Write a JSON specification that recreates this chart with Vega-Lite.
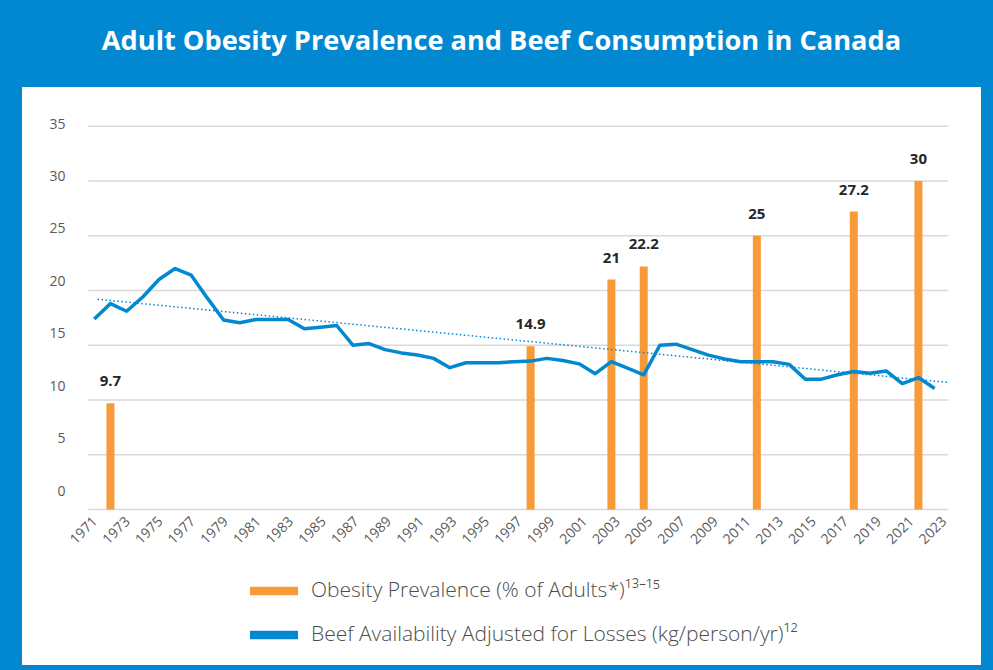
{
  "$schema": "https://vega.github.io/schema/vega-lite/v6.json",
  "width": 959,
  "height": 578,
  "autosize": {"type": "none"},
  "padding": {"left": 22, "top": 87, "right": 12, "bottom": 5},
  "background": "#0288D1",
  "title": {"text": "Adult Obesity Prevalence and Beef Consumption in Canada", "color": "white", "font": "Open Sans", "fontSize": 27.2, "fontWeight": "bold", "anchor": "middle", "frame": "group", "offset": 31},
  "config": {
    "view": {"fill": "white", "stroke": null},
    "font": "Open Sans",
    "axisX": {"labelOverlap": false, "labelFlush": false, "labelBound": false, "labelSeparation": 0}
  },
  "datasets": {
    "beef": [
      {"year": 1971, "kg": 17.4}, {"year": 1972, "kg": 18.8}, {"year": 1973, "kg": 18.1}, {"year": 1974, "kg": 19.4},
      {"year": 1975, "kg": 21.0}, {"year": 1976, "kg": 22.0}, {"year": 1977, "kg": 21.4}, {"year": 1978, "kg": 19.3},
      {"year": 1979, "kg": 17.3}, {"year": 1980, "kg": 17.05}, {"year": 1981, "kg": 17.35}, {"year": 1982, "kg": 17.35},
      {"year": 1983, "kg": 17.35}, {"year": 1984, "kg": 16.5}, {"year": 1985, "kg": 16.65}, {"year": 1986, "kg": 16.8},
      {"year": 1987, "kg": 15.0}, {"year": 1988, "kg": 15.15}, {"year": 1989, "kg": 14.6}, {"year": 1990, "kg": 14.3},
      {"year": 1991, "kg": 14.1}, {"year": 1992, "kg": 13.8}, {"year": 1993, "kg": 12.95}, {"year": 1994, "kg": 13.4},
      {"year": 1995, "kg": 13.4}, {"year": 1996, "kg": 13.4}, {"year": 1997, "kg": 13.5}, {"year": 1998, "kg": 13.55},
      {"year": 1999, "kg": 13.8}, {"year": 2000, "kg": 13.6}, {"year": 2001, "kg": 13.3}, {"year": 2002, "kg": 12.4},
      {"year": 2003, "kg": 13.5}, {"year": 2004, "kg": 12.9}, {"year": 2005, "kg": 12.3}, {"year": 2006, "kg": 15.0},
      {"year": 2007, "kg": 15.1}, {"year": 2008, "kg": 14.6}, {"year": 2009, "kg": 14.1}, {"year": 2010, "kg": 13.75},
      {"year": 2011, "kg": 13.5}, {"year": 2012, "kg": 13.5}, {"year": 2013, "kg": 13.5}, {"year": 2014, "kg": 13.25},
      {"year": 2015, "kg": 11.9}, {"year": 2016, "kg": 11.9}, {"year": 2017, "kg": 12.3}, {"year": 2018, "kg": 12.6},
      {"year": 2019, "kg": 12.45}, {"year": 2020, "kg": 12.65}, {"year": 2021, "kg": 11.5}, {"year": 2022, "kg": 12.05},
      {"year": 2023, "kg": 11.05}
    ],
    "obesity": [
      {"year": 1972, "pct": 9.7, "series": "Obesity Prevalence (% of Adults*)¹³⁻¹⁵"},
      {"year": 1998, "pct": 14.9, "series": "Obesity Prevalence (% of Adults*)¹³⁻¹⁵"},
      {"year": 2003, "pct": 21, "series": "Obesity Prevalence (% of Adults*)¹³⁻¹⁵"},
      {"year": 2005, "pct": 22.2, "series": "Obesity Prevalence (% of Adults*)¹³⁻¹⁵"},
      {"year": 2012, "pct": 25, "series": "Obesity Prevalence (% of Adults*)¹³⁻¹⁵"},
      {"year": 2018, "pct": 27.2, "series": "Obesity Prevalence (% of Adults*)¹³⁻¹⁵"},
      {"year": 2022, "pct": 30, "series": "Obesity Prevalence (% of Adults*)¹³⁻¹⁵"}
    ],
    "trend": [
      {"year": 1971.2, "kg": 19.2},
      {"year": 2023.85, "kg": 11.6}
    ],
    "grid": [
      {"v": 0}, {"v": 5}, {"v": 10}, {"v": 15}, {"v": 20}, {"v": 25}, {"v": 30}, {"v": 35}
    ]
  },
  "resolve": {"scale": {"y": "independent", "x": "independent"}},
  "layer": [
    {
      "layer": [
        {
          "data": {"name": "grid"},
          "mark": {"type": "rule", "color": "#d9d9d9", "strokeWidth": 1.5},
          "encoding": {
            "y": {"field": "v", "type": "quantitative", "scale": {"domain": [-14.2, 38.58], "nice": false, "zero": false}, "axis": null},
            "x": {"datum": 1970.63, "type": "quantitative", "scale": {"domain": [1966.836, 2025.562], "nice": false, "zero": false}, "axis": null},
            "x2": {"datum": 2023.85}
          }
        },
        {
          "data": {"name": "obesity"},
          "mark": {"type": "bar", "width": 8},
          "encoding": {
            "x": {"field": "year", "type": "quantitative", "scale": {"domain": [1966.836, 2025.562], "nice": false, "zero": false}, "axis": null},
            "y": {"field": "pct", "type": "quantitative", "scale": {"domain": [-14.2, 38.58], "nice": false, "zero": false}, "axis": null},
            "y2": {"datum": 0},
            "color": {"field": "series", "type": "nominal",
              "scale": {"domain": ["Obesity Prevalence (% of Adults*)¹³⁻¹⁵", "Beef Availability Adjusted for Losses (kg/person/yr)¹²"], "range": ["#F79A38", "#0288D1"]},
              "legend": {"orient": "none", "legendX": 240, "legendY": 492, "title": null, "direction": "vertical",
                "symbolType": "M-2,-0.36H2V0.36H-2Z", "symbolSize": 576, "symbolStrokeWidth": 0, "symbolOpacity": 1,
                "labelFontSize": 21, "labelFontWeight": 300, "labelColor": "#4d4d4d", "labelFont": "Open Sans", "labelOffset": 25, "rowPadding": 22,
                "padding": 0, "labelLimit": 0}}
          }
        },
        {
          "data": {"name": "obesity"},
          "mark": {"type": "text", "dy": -22, "fontWeight": "bold", "fontSize": 15, "color": "#262626", "font": "Open Sans"},
          "encoding": {
            "x": {"field": "year", "type": "quantitative", "scale": {"domain": [1966.836, 2025.562], "nice": false, "zero": false}, "axis": null},
            "y": {"field": "pct", "type": "quantitative", "scale": {"domain": [-14.2, 38.58], "nice": false, "zero": false}, "axis": null},
            "text": {"field": "pct", "type": "nominal"}
          }
        },
        {
          "data": {"name": "beef"},
          "mark": {"type": "line", "color": "#0288D1", "strokeWidth": 3.5, "strokeJoin": "round"},
          "encoding": {
            "x": {"field": "year", "type": "quantitative", "scale": {"domain": [1966.836, 2025.562], "nice": false, "zero": false}, "axis": null},
            "y": {"field": "kg", "type": "quantitative", "scale": {"domain": [-14.2, 38.58], "nice": false, "zero": false}, "axis": null}
          }
        },
        {
          "data": {"name": "trend"},
          "mark": {"type": "line", "color": "#0288D1", "strokeWidth": 1.5, "strokeDash": [1.5, 2.5]},
          "encoding": {
            "x": {"field": "year", "type": "quantitative", "scale": {"domain": [1966.836, 2025.562], "nice": false, "zero": false}, "axis": null},
            "y": {"field": "kg", "type": "quantitative", "scale": {"domain": [-14.2, 38.58], "nice": false, "zero": false}, "axis": null}
          }
        }
      ]
    },
    {
      "data": {"name": "grid"},
      "mark": {"type": "point", "opacity": 0},
      "encoding": {
        "y": {"field": "v", "type": "quantitative", "scale": {"domain": [-16.59, 38.53], "nice": false, "zero": false},
          "axis": {"orient": "left", "values": [0, 5, 10, 15, 20, 25, 30, 35], "offset": -43, "domain": false, "ticks": false, "tickSize": 0,
            "grid": false, "labelPadding": 0, "labelFontSize": 14, "labelColor": "#595959", "labelFont": "Open Sans", "title": null}}
      }
    },
    {
      "data": {"name": "beef"},
      "mark": {"type": "point", "opacity": 0},
      "encoding": {
        "x": {"field": "year", "type": "quantitative", "scale": {"domain": [1966.836, 2025.562], "nice": false, "zero": false},
          "axis": {"orient": "bottom", "values": [1971,1973,1975,1977,1979,1981,1983,1985,1987,1989,1991,1993,1995,1997,1999,2001,2003,2005,2007,2009,2011,2013,2015,2017,2019,2021,2023],
            "format": "d", "labelAngle": -45, "offset": -155, "domain": false, "ticks": false, "tickSize": 0, "grid": false, "labelPadding": 4,
            "labelFontSize": 14, "labelColor": "#595959", "labelFont": "Open Sans", "labelOverlap": false, "labelSeparation": 0, "title": null}}
      }
    }
  ]
}
